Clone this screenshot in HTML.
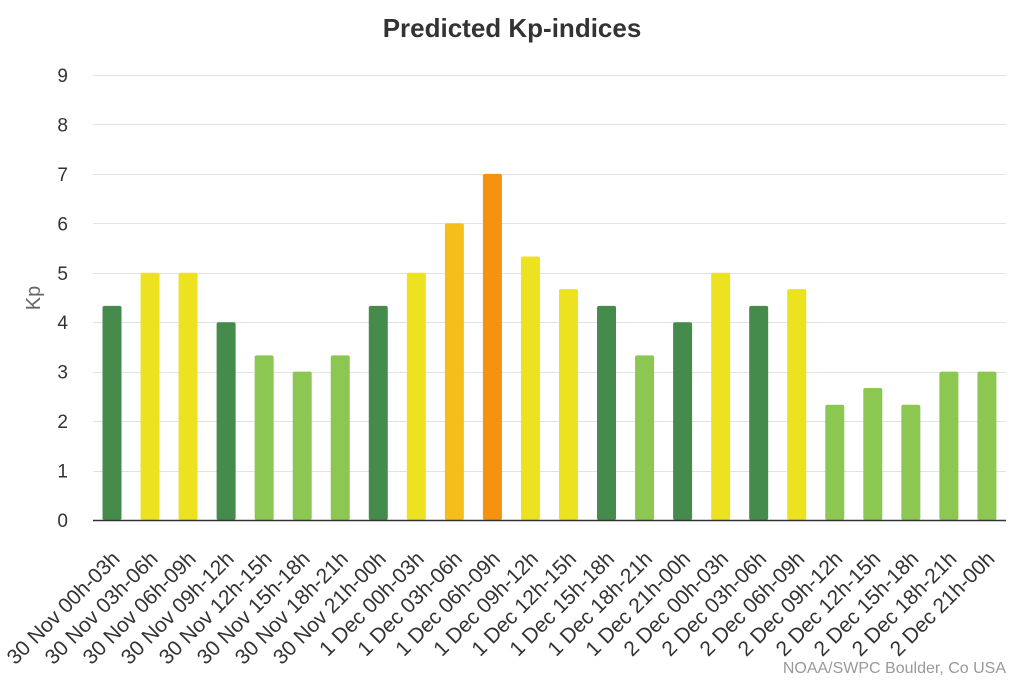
<!DOCTYPE html>
<html><head><meta charset="utf-8"><style>body{margin:0;background:#fff}svg{display:block}</style></head>
<body>
<svg width="1024" height="682" xmlns="http://www.w3.org/2000/svg" font-family="Liberation Sans, Arial, sans-serif">
<rect width="1024" height="682" fill="#fff"/>
<text x="512" y="37" text-anchor="middle" font-size="26" font-weight="bold" fill="#333">Predicted Kp-indices</text>
<g id="grid" stroke="#e2e2e2" stroke-width="1"></g>
<g id="ylab" font-size="19" fill="#333" text-anchor="end"></g>
<text transform="translate(40,298) rotate(-90)" text-anchor="middle" font-size="20" fill="#666">Kp</text>
<g id="bars"></g>
<line x1="93" y1="520.5" x2="1006" y2="520.5" stroke="#333" stroke-width="1.5"/>
<g id="xlab" font-size="21" fill="#333" text-anchor="end"></g>
<text x="1006" y="673" text-anchor="end" font-size="16" fill="#999">NOAA/SWPC Boulder, Co USA</text>
<script>
var ns="http://www.w3.org/2000/svg";
function el(p,t,a,txt){var e=document.createElementNS(ns,t);for(var k in a)e.setAttribute(k,a[k]);if(txt)e.textContent=txt;document.getElementById(p).appendChild(e);}
var y0=520,u=49.44;
for(var i=0;i<=9;i++){var y=y0-i*u;if(i>0)el("grid","line",{x1:93,x2:1006,y1:Math.round(y)+0.5,y2:Math.round(y)+0.5});el("ylab","text",{x:68,y:y+7},String(i));}
var v=[4.33,5,5,4,3.33,3,3.33,4.33,5,6,7,5.33,4.67,4.33,3.33,4,5,4.33,4.67,2.33,2.67,2.33,3,3];
var labs=["30 Nov 00h-03h","30 Nov 03h-06h","30 Nov 06h-09h","30 Nov 09h-12h","30 Nov 12h-15h","30 Nov 15h-18h","30 Nov 18h-21h","30 Nov 21h-00h","1 Dec 00h-03h","1 Dec 03h-06h","1 Dec 06h-09h","1 Dec 09h-12h","1 Dec 12h-15h","1 Dec 15h-18h","1 Dec 18h-21h","1 Dec 21h-00h","2 Dec 00h-03h","2 Dec 03h-06h","2 Dec 06h-09h","2 Dec 09h-12h","2 Dec 12h-15h","2 Dec 15h-18h","2 Dec 18h-21h","2 Dec 21h-00h"];
function col(x){if(x>=7)return"#f5920f";if(x>=6)return"#f5be1b";if(x>=4.5)return"#ede220";if(x>=4)return"#458b4c";return"#8cc851";}
for(var i=0;i<24;i++){var cx=112+i*38.04,h=v[i]*u;
el("bars","rect",{x:cx-9.5,y:y0-h,width:19,height:h,rx:2,fill:col(v[i])});
el("xlab","text",{transform:"translate("+(cx+9)+",560) rotate(-45)"},labs[i]);}
</script>
</svg>
</body></html>
